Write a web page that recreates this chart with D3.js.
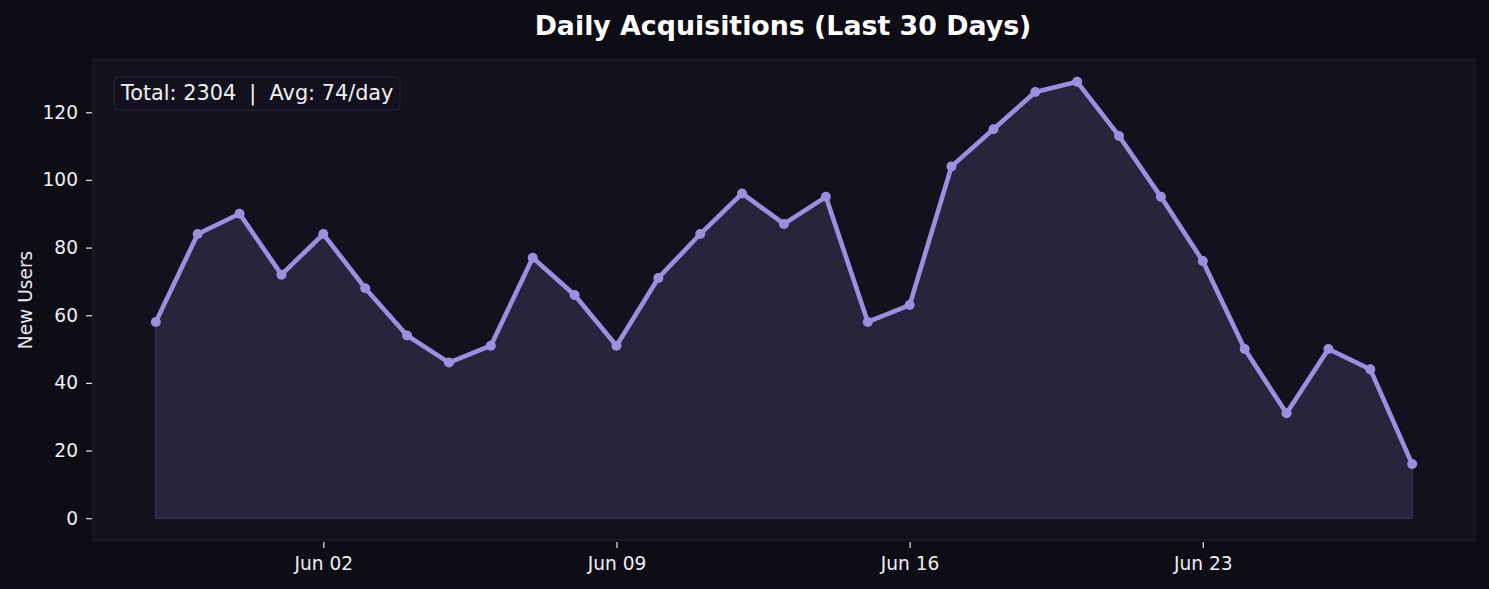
<!DOCTYPE html>
<html>
<head>
<meta charset="utf-8">
<script src="https://cdn.jsdelivr.net/npm/d3@7"></script>
<style>
    html, body { margin: 0; padding: 0; background: #0e0c15; }
    svg { display: block; font-family: "DejaVu Sans", sans-serif; }
</style>
</head>
<body>
<svg id="chart" width="1489" height="589"></svg>
<script>
// daily sign-ups, May 29 .. Jun 28
const days = [
    "2024-05-29", "2024-05-30", "2024-05-31", "2024-06-01", "2024-06-02",
    "2024-06-03", "2024-06-04", "2024-06-05", "2024-06-06", "2024-06-07",
    "2024-06-08", "2024-06-09", "2024-06-10", "2024-06-11", "2024-06-12",
    "2024-06-13", "2024-06-14", "2024-06-15", "2024-06-16", "2024-06-17",
    "2024-06-18", "2024-06-19", "2024-06-20", "2024-06-21", "2024-06-22",
    "2024-06-23", "2024-06-24", "2024-06-25", "2024-06-26", "2024-06-27",
    "2024-06-28"
];
const newUsers = [
    58, 84, 90, 72, 84, 68, 54, 46, 51, 77,
    66, 51, 71, 84, 96, 87, 95, 58, 63, 104,
    115, 126, 129, 113, 95, 76, 50, 31, 50, 44,
    16
];
const xTickDays = ["2024-06-02", "2024-06-09", "2024-06-16", "2024-06-23"];
const yTicks = [0, 20, 40, 60, 80, 100, 120];

const parse = d3.timeParse("%Y-%m-%d");
const data = days.map((d, i) => ({ date: parse(d), value: newUsers[i] }));

const box = { left: 93, right: 1475, top: 60, bottom: 540 };
const svg = d3.select("#chart");

// pad domains by 5% like the original
const [d0, d1] = d3.extent(data, d => d.date);
const xPad = (d1 - d0) * 0.05;
const x = d3.scaleTime()
    .domain([new Date(+d0 - xPad), new Date(+d1 + xPad)])
    .range([box.left, box.right]);

const yMax = d3.max(newUsers);
const y = d3.scaleLinear()
    .domain([-yMax * 0.05, yMax * 1.05])
    .range([box.bottom, box.top]);

svg.append("rect")
    .attr("x", box.left)
    .attr("y", box.top)
    .attr("width", box.right - box.left)
    .attr("height", box.bottom - box.top)
    .attr("fill", "#13111d")
    .attr("stroke", "#1f1c2b")
    .attr("stroke-width", 1.5);

const area = d3.area()
    .x(d => x(d.date))
    .y0(y(0))
    .y1(d => y(d.value));

svg.append("path")
    .datum(data)
    .attr("d", area)
    .attr("fill", "#28243c")
    .attr("stroke", "#352f55")
    .attr("stroke-width", 1.5);

const line = d3.line()
    .x(d => x(d.date))
    .y(d => y(d.value));

svg.append("path")
    .datum(data)
    .attr("d", line)
    .attr("fill", "none")
    .attr("stroke", "#9d8ee0")
    .attr("stroke-width", 4.6)
    .attr("stroke-linejoin", "round");

svg.append("g")
    .selectAll("circle")
    .data(data)
    .join("circle")
    .attr("cx", d => x(d.date))
    .attr("cy", d => y(d.value))
    .attr("r", 5)
    .attr("fill", "#9d8ee0");

// axes
const xAxis = d3.axisBottom(x)
    .tickValues(xTickDays.map(parse))
    .tickFormat(d3.timeFormat("%b %d"))
    .tickSize(6)
    .tickPadding(9);

const gx = svg.append("g")
    .attr("transform", `translate(0,${box.bottom + 2})`)
    .call(xAxis);

const yAxis = d3.axisLeft(y)
    .tickValues(yTicks)
    .tickSize(6)
    .tickPadding(8);

const gy = svg.append("g")
    .attr("transform", `translate(${box.left - 1},0)`)
    .call(yAxis);

for (let g of [gx, gy]) {
    g.attr("font-size", null).attr("font-family", null);
    g.select(".domain").remove();
    g.selectAll(".tick line").attr("stroke", "#d8d8e0").attr("stroke-width", 1.3);
    g.selectAll(".tick text")
        .attr("fill", "#eeeef4")
        .style("font-size", "18.6px")
        .style("font-family", "DejaVu Sans");
}

svg.append("text")
    .attr("transform", "translate(32,300) rotate(-90)")
    .attr("text-anchor", "middle")
    .attr("fill", "#e8e8f0")
    .style("font-size", "18.6px")
    .text("New Users");

svg.append("text")
    .attr("x", 783)
    .attr("y", 35)
    .attr("text-anchor", "middle")
    .attr("fill", "#ffffff")
    .style("font-size", "26.8px")
    .attr("font-weight", "bold")
    .text("Daily Acquisitions (Last 30 Days)");

// summary box
const total = d3.sum(newUsers);
const avg = Math.round(total / newUsers.length);

svg.append("rect")
    .attr("x", 114)
    .attr("y", 77)
    .attr("width", 286)
    .attr("height", 33)
    .attr("rx", 5)
    .attr("fill", "#13111d")
    .attr("stroke", "#22202f")
    .attr("stroke-width", 1.5);

svg.append("text")
    .attr("x", 121)
    .attr("y", 100)
    .attr("fill", "#f0f0f4")
    .style("font-size", "20.8px")
    .attr("xml:space", "preserve")
    .style("white-space", "pre")
    .text(`Total: ${total}  |  Avg: ${avg}/day`);
</script>
</body>
</html>
